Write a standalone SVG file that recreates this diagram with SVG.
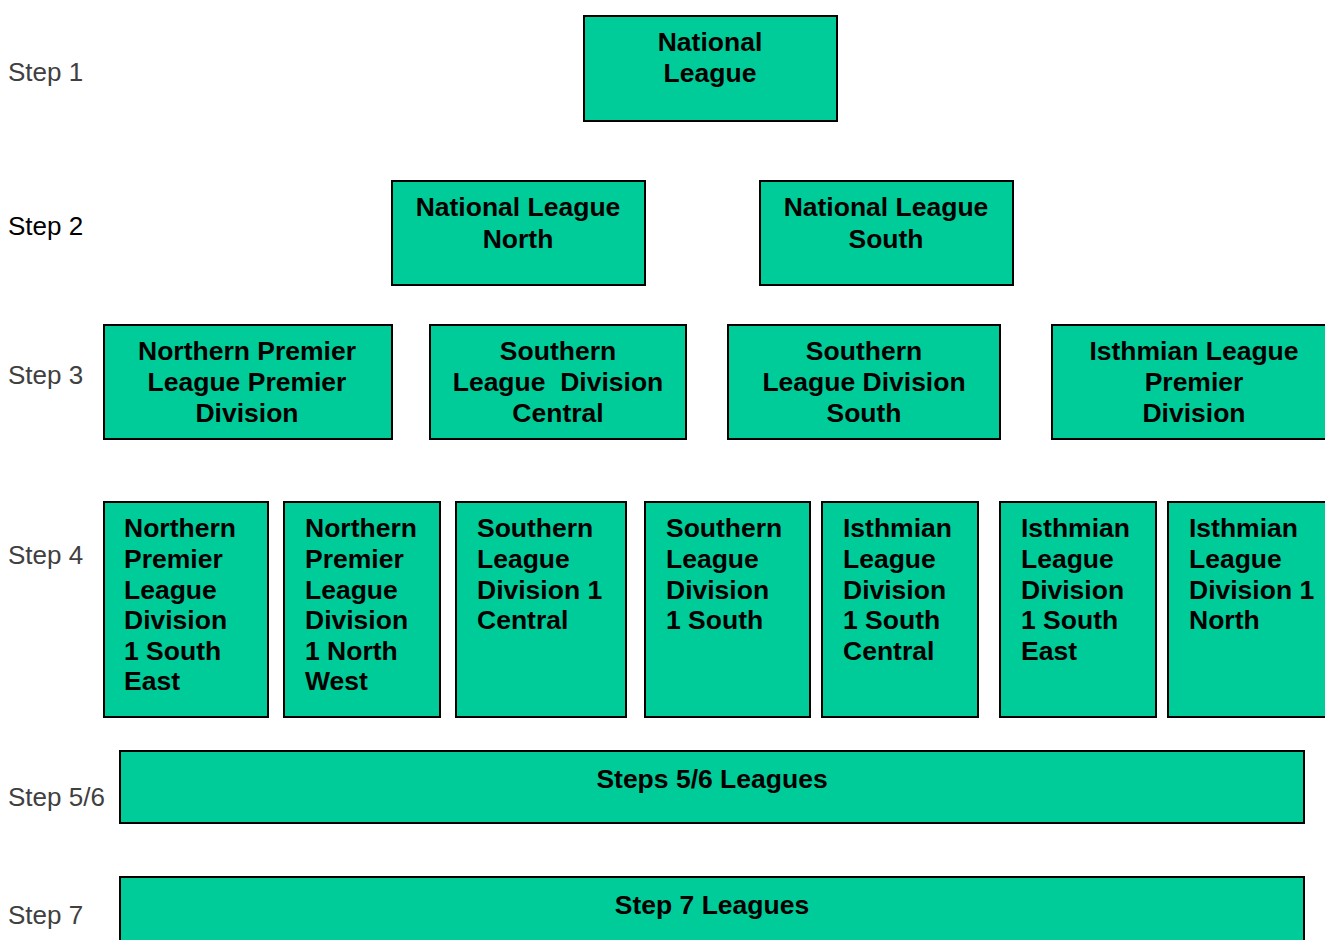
<svg xmlns="http://www.w3.org/2000/svg" width="1325" height="940" viewBox="0 0 1325 940">
<style>
.box{fill:#00CC99;stroke:#000;stroke-width:2}
.t{font-family:"Liberation Sans",Arial,sans-serif;font-weight:bold;font-size:26.5px;fill:#000}
.c{text-anchor:middle}
.lbl{font-family:"Liberation Sans",Arial,sans-serif;font-size:26px;fill:#404040}
</style>
<rect width="1325" height="940" fill="#fff"/>
<g id="labels">
<text class="lbl" x="8" y="81">Step 1</text>
<text class="lbl" x="8" y="235" style="fill:#000">Step 2</text>
<text class="lbl" x="8" y="384">Step 3</text>
<text class="lbl" x="8" y="564">Step 4</text>
<text class="lbl" x="8" y="806">Step 5/6</text>
<text class="lbl" x="8" y="924">Step 7</text>
</g>
<g id="connectors"></g>
<g id="national-league"><rect class="box" x="584" y="16" width="253" height="105"/>
<text class="t c" x="710"><tspan x="710" y="51">National</tspan><tspan x="710" y="82">League</tspan></text></g>
<g id="nl-north"><rect class="box" x="392" y="181" width="253" height="104"/>
<text class="t c"><tspan x="518" y="216">National League</tspan><tspan x="518" y="248">North</tspan></text></g>
<g id="nl-south"><rect class="box" x="760" y="181" width="253" height="104"/>
<text class="t c"><tspan x="886" y="216">National League</tspan><tspan x="886" y="248">South</tspan></text></g>
<g id="npl-premier"><rect class="box" x="104" y="325" width="288" height="114"/>
<text class="t c"><tspan x="247" y="360">Northern Premier</tspan><tspan x="247" y="391">League Premier</tspan><tspan x="247" y="422">Division</tspan></text></g>
<g id="sl-central"><rect class="box" x="430" y="325" width="256" height="114"/>
<text class="t c" xml:space="preserve"><tspan x="558" y="360">Southern</tspan><tspan x="558" y="391">League  Division</tspan><tspan x="558" y="422">Central</tspan></text></g>
<g id="sl-south"><rect class="box" x="728" y="325" width="272" height="114"/>
<text class="t c"><tspan x="864" y="360">Southern</tspan><tspan x="864" y="391">League Division</tspan><tspan x="864" y="422">South</tspan></text></g>
<g id="isthmian-premier"><rect class="box" x="1052" y="325" width="285" height="114"/>
<text class="t c"><tspan x="1194" y="360">Isthmian League</tspan><tspan x="1194" y="391">Premier</tspan><tspan x="1194" y="422">Division</tspan></text></g>
<g id="npl-1se"><rect class="box" x="104" y="502" width="164" height="215"/>
<text class="t"><tspan x="124" y="537">Northern</tspan><tspan x="124" y="568">Premier</tspan><tspan x="124" y="599">League</tspan><tspan x="124" y="629">Division</tspan><tspan x="124" y="660">1 South</tspan><tspan x="124" y="690">East</tspan></text></g>
<g id="npl-1nw"><rect class="box" x="284" y="502" width="156" height="215"/>
<text class="t"><tspan x="305" y="537">Northern</tspan><tspan x="305" y="568">Premier</tspan><tspan x="305" y="599">League</tspan><tspan x="305" y="629">Division</tspan><tspan x="305" y="660">1 North</tspan><tspan x="305" y="690">West</tspan></text></g>
<g id="sl-1c"><rect class="box" x="456" y="502" width="170" height="215"/>
<text class="t"><tspan x="477" y="537">Southern</tspan><tspan x="477" y="568">League</tspan><tspan x="477" y="599">Division 1</tspan><tspan x="477" y="629">Central</tspan></text></g>
<g id="sl-1s"><rect class="box" x="645" y="502" width="165" height="215"/>
<text class="t"><tspan x="666" y="537">Southern</tspan><tspan x="666" y="568">League</tspan><tspan x="666" y="599">Division</tspan><tspan x="666" y="629">1 South</tspan></text></g>
<g id="il-1sc"><rect class="box" x="822" y="502" width="156" height="215"/>
<text class="t"><tspan x="843" y="537">Isthmian</tspan><tspan x="843" y="568">League</tspan><tspan x="843" y="599">Division</tspan><tspan x="843" y="629">1 South</tspan><tspan x="843" y="660">Central</tspan></text></g>
<g id="il-1se"><rect class="box" x="1000" y="502" width="156" height="215"/>
<text class="t"><tspan x="1021" y="537">Isthmian</tspan><tspan x="1021" y="568">League</tspan><tspan x="1021" y="599">Division</tspan><tspan x="1021" y="629">1 South</tspan><tspan x="1021" y="660">East</tspan></text></g>
<g id="il-1n"><rect class="box" x="1168" y="502" width="170" height="215"/>
<text class="t"><tspan x="1189" y="537">Isthmian</tspan><tspan x="1189" y="568">League</tspan><tspan x="1189" y="599">Division 1</tspan><tspan x="1189" y="629">North</tspan></text></g>
<g id="steps-5-6"><rect class="box" x="120" y="751" width="1184" height="72"/>
<text class="t c" x="712" y="788">Steps 5/6 Leagues</text></g>
<g id="step-7"><rect class="box" x="120" y="877" width="1184" height="80"/>
<text class="t c" x="712" y="914">Step 7 Leagues</text></g>
</svg>
